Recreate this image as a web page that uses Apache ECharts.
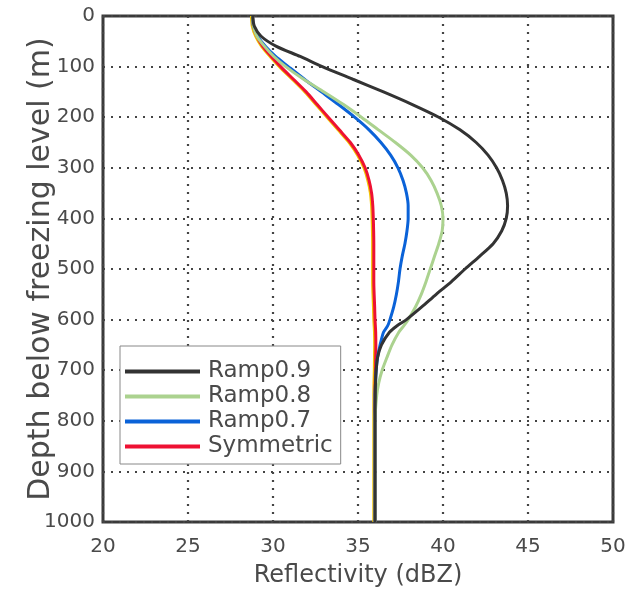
<!DOCTYPE html>
<html>
<head>
<meta charset="utf-8">
<script src="https://cdn.jsdelivr.net/npm/echarts@6/dist/echarts.min.js"></script>
<style>
html,body{margin:0;padding:0;background:#fff;}
#c{width:628px;height:592px;}
</style>
</head>
<body>
<div id="c"></div>
<script>
// Depth below freezing level (m)
const depths = [0, 20, 40, 60, 80, 100, 125, 150, 175, 200, 225, 250, 275, 300, 325, 350, 375, 400, 425, 450, 475, 500, 525, 550, 575, 600, 612, 625, 650, 675, 700, 725, 750, 800, 900, 1000];

// Reflectivity (dBZ) for each series at the depths above
const ramp09 = [28.8, 28.9, 29.3, 30.2, 31.6, 32.9, 34.7, 36.5, 38.2, 39.75, 41.0, 41.95, 42.65, 43.15, 43.5, 43.72, 43.8, 43.72, 43.45, 42.95, 42.15, 41.3, 40.5, 39.6, 38.75, 37.85, 37.3, 36.85, 36.38, 36.15, 36.07, 36.03, 36.02, 36.0, 36.0, 36.0];
const ramp08 = [28.8, 28.85, 29.05, 29.5, 30.05, 30.75, 31.8, 33.0, 34.15, 35.2, 36.2, 37.2, 38.1, 38.8, 39.3, 39.65, 39.9, 40.0, 39.95, 39.75, 39.5, 39.25, 39.0, 38.72, 38.38, 37.95, 37.7, 37.4, 37.0, 36.7, 36.42, 36.22, 36.1, 36.0, 36.0, 36.0];
const ramp07 = [28.8, 28.85, 29.1, 29.55, 30.15, 30.9, 31.85, 32.85, 33.85, 34.8, 35.65, 36.35, 36.92, 37.35, 37.65, 37.85, 37.95, 37.95, 37.88, 37.76, 37.6, 37.47, 37.38, 37.26, 37.1, 36.88, 36.75, 36.5, 36.3, 36.15, 36.07, 36.03, 36.0, 36.0, 36.0, 36.0];
const symmetric = [28.8, 28.85, 29.05, 29.4, 29.9, 30.45, 31.2, 31.95, 32.6, 33.25, 33.9, 34.55, 35.05, 35.42, 35.65, 35.8, 35.87, 35.9, 35.92, 35.93, 35.93, 35.93, 35.93, 35.95, 35.98, 36.0, 36.02, 36.04, 36.05, 36.04, 36.03, 36.01, 36.0, 36.0, 36.0, 36.0];

const seriesNames = ['Ramp0.9', 'Ramp0.8', 'Ramp0.7', 'Symmetric'];
const xTicks = [20, 25, 30, 35, 40, 45, 50];
const yTicks = [0, 100, 200, 300, 400, 500, 600, 700, 800, 900, 1000];

const pairs = arr => arr.map((v, i) => [v, depths[i]]);
const font = 'DejaVu Sans';
const txt = '#4a4a4a';

const chart = echarts.init(document.getElementById('c'), null, {renderer: 'canvas'});
chart.setOption({
  backgroundColor: '#ffffff',
  animation: false,
  grid: {left: 103, top: 16, width: 510, height: 506, containLabel: false, outerBoundsMode: 'none',
         show: true, borderColor: '#3a3a3a', borderWidth: 3, backgroundColor: 'transparent'},
  xAxis: {
    type: 'value', min: xTicks[0], max: xTicks[xTicks.length - 1], interval: 5,
    name: 'Reflectivity (dBZ)', nameLocation: 'middle', nameGap: 42, nameMoveOverlap: false,
    nameTextStyle: {fontFamily: font, fontSize: 24, color: txt},
    axisLine: {show: false}, axisTick: {show: false},
    axisLabel: {fontFamily: font, fontSize: 20, color: txt, margin: 15, formatter: v => String(v)},
    splitLine: {show: true, lineStyle: {color: '#444', width: 2.2, type: [2, 6]}}
  },
  yAxis: {
    type: 'value', inverse: true, min: yTicks[0], max: yTicks[yTicks.length - 1], interval: 100,
    name: 'Depth below freezing level (m)', nameLocation: 'middle', nameGap: 47, nameRotate: 90, nameMoveOverlap: false,
    nameTextStyle: {fontFamily: font, fontSize: 30, color: txt},
    axisLine: {show: false}, axisTick: {show: false},
    axisLabel: {fontFamily: font, fontSize: 20, color: txt, margin: 8, formatter: v => String(v)},
    splitLine: {show: true, lineStyle: {color: '#444', width: 2.2, type: [2, 6]}}
  },
  legend: {
    orient: 'vertical', left: 120, top: 346,
    padding: [14, 8, 6, 5],
    backgroundColor: '#fff', borderColor: '#888', borderWidth: 1,
    itemWidth: 75, itemHeight: 4, itemGap: 2, icon: 'rect',
    textStyle: {fontFamily: font, fontSize: 23, color: txt, lineHeight: 22, padding: [0, 0, 0, 3]},
    data: seriesNames
  },
  series: [
    {name: seriesNames[0], type: 'line', data: pairs(ramp09), showSymbol: false, smooth: 0.25, z: 5,
     lineStyle: {color: '#333333', width: 3}, itemStyle: {color: '#333333'}},
    {name: seriesNames[1], type: 'line', data: pairs(ramp08), showSymbol: false, smooth: 0.25, z: 4,
     lineStyle: {color: '#abd28f', width: 3}, itemStyle: {color: '#abd28f'}},
    {name: seriesNames[2], type: 'line', data: pairs(ramp07), showSymbol: false, smooth: 0.25, z: 3,
     lineStyle: {color: '#0a62d8', width: 3}, itemStyle: {color: '#0a62d8'}},
    {name: seriesNames[3], type: 'line', data: pairs(symmetric), showSymbol: false, smooth: 0.25, z: 2,
     lineStyle: {color: '#ee1133', width: 3, shadowColor: '#f2c400', shadowOffsetX: -1.2, shadowBlur: 0}, itemStyle: {color: '#ee1133'}}
  ]
});
</script>
</body>
</html>
